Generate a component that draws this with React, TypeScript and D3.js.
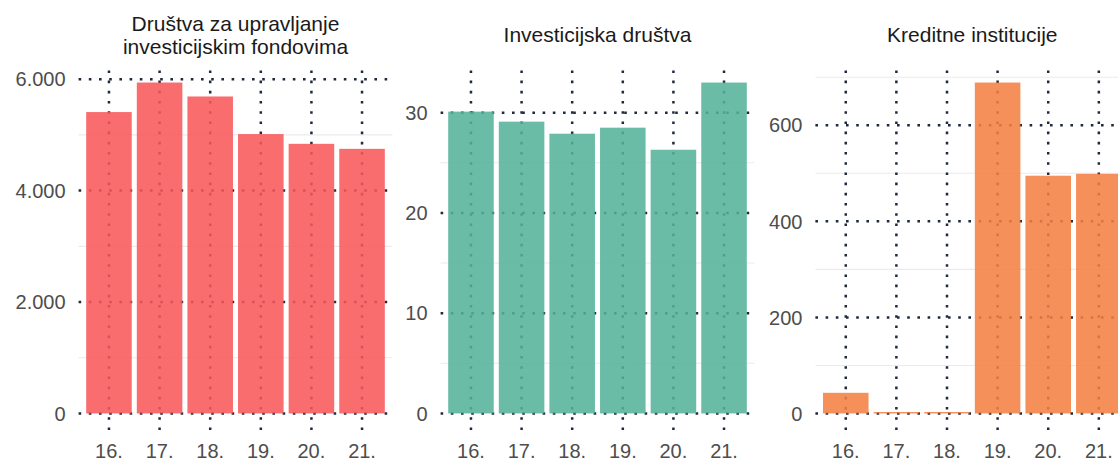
import * as d3 from "d3";

const godine = ["16.", "17.", "18.", "19.", "20.", "21."];
const drustvaZaUpravljanje = [5410, 5940, 5690, 5015, 4840, 4750];
const investicijskaDrustva = [30.1, 29.1, 27.9, 28.5, 26.3, 33.0];
const kreditneInstitucije = [43, 3, 3, 689, 495, 499];

const naslovi = [
  ["Društva za upravljanje", "investicijskim fondovima"],
  ["Investicijska društva"],
  ["Kreditne institucije"],
];
const yTicks = [
  [0, 2000, 4000, 6000],
  [0, 10, 20, 30],
  [0, 200, 400, 600],
];
const yMinor = [
  [1000, 3000, 5000],
  [5, 15, 25],
  [100, 300, 500, 700],
];
const boje = ["#F8575A", "#55B299", "#F37F42"];

const width = 1118;
const height = 461;
const panelTop = 66;
const panelBottom = 430;
const panelLefts = [78.6, 440.6, 815.4];
const panelWidth = 313.8;

const hr = d3.formatLocale({ decimal: ",", thousands: ".", grouping: [3], currency: ["", ""] });
const fmt = hr.format(",");

const font = "'Liberation Sans', Arial, sans-serif";

function Panel({ index, values }: { index: number; values: number[] }) {
  const left = panelLefts[index];
  const right = left + panelWidth;
  const max = d3.max(values) as number;

  const x = d3.scaleBand().domain(godine).range([left, right]).paddingInner(0.1).paddingOuter(0.15);
  const y = d3.scaleLinear().domain([-0.05 * max, max * 1.05]).range([panelBottom, panelTop]);

  const lineColor = "#1f2a3f";
  const title = naslovi[index];
  const cx = (left + right) / 2;

  return (
    <g>
      {/* minor grid */}
      {yMinor[index]
        .filter((v) => y(v) >= panelTop)
        .map((v) => (
          <line key={"m" + v} x1={left} x2={right} y1={y(v)} y2={y(v)} stroke="#EBEBEB" strokeWidth={1.1} />
        ))}
      {/* major dotted grid */}
      {yTicks[index].map((v) => (
        <line
          key={"h" + v}
          x1={left}
          x2={right}
          y1={y(v)}
          y2={y(v)}
          stroke={lineColor}
          strokeWidth={2.5}
          strokeDasharray="2.6 7.6"
        />
      ))}
      {godine.map((g) => {
        const xc = (x(g) as number) + x.bandwidth() / 2;
        return (
          <line
            key={"v" + g}
            x1={xc}
            x2={xc}
            y1={panelBottom}
            y2={panelTop}
            stroke={lineColor}
            strokeWidth={2.5}
            strokeDasharray="2.6 7.6"
          />
        );
      })}
      {/* bars */}
      {values.map((v, i) => (
        <rect
          key={"b" + i}
          x={x(godine[i])}
          width={x.bandwidth()}
          y={y(v)}
          height={y(0) - y(v)}
          fill={boje[index]}
          fillOpacity={0.87}
        />
      ))}
      {/* y labels */}
      {yTicks[index].map((v) => (
        <text
          key={"yl" + v}
          x={left - 13}
          y={y(v)}
          dy="0.36em"
          textAnchor="end"
          fontSize={20}
          fill="#4D4D4D"
          fontFamily={font}
        >
          {fmt(v)}
        </text>
      ))}
      {/* x labels */}
      {godine.map((g) => (
        <text
          key={"xl" + g}
          x={(x(g) as number) + x.bandwidth() / 2}
          y={457.5}
          textAnchor="middle"
          fontSize={20}
          fill="#4D4D4D"
          fontFamily={font}
        >
          {g}
        </text>
      ))}
      {/* strip title */}
      {title.length === 2 ? (
        <text textAnchor="middle" fontSize={21} fill="#1A1A1A" fontFamily={font}>
          <tspan x={cx} y={30.5}>{title[0]}</tspan>
          <tspan x={cx} y={54}>{title[1]}</tspan>
        </text>
      ) : (
        <text x={cx} y={42} textAnchor="middle" fontSize={21} fill="#1A1A1A" fontFamily={font}>
          {title[0]}
        </text>
      )}
    </g>
  );
}

export default function App() {
  const serije = [drustvaZaUpravljanje, investicijskaDrustva, kreditneInstitucije];
  return (
    <svg
      width={width}
      height={height}
      style={{ position: "absolute", left: 0, top: 0, background: "white" }}
    >
      {serije.map((s, i) => (
        <Panel key={i} index={i} values={s} />
      ))}
    </svg>
  );
}
